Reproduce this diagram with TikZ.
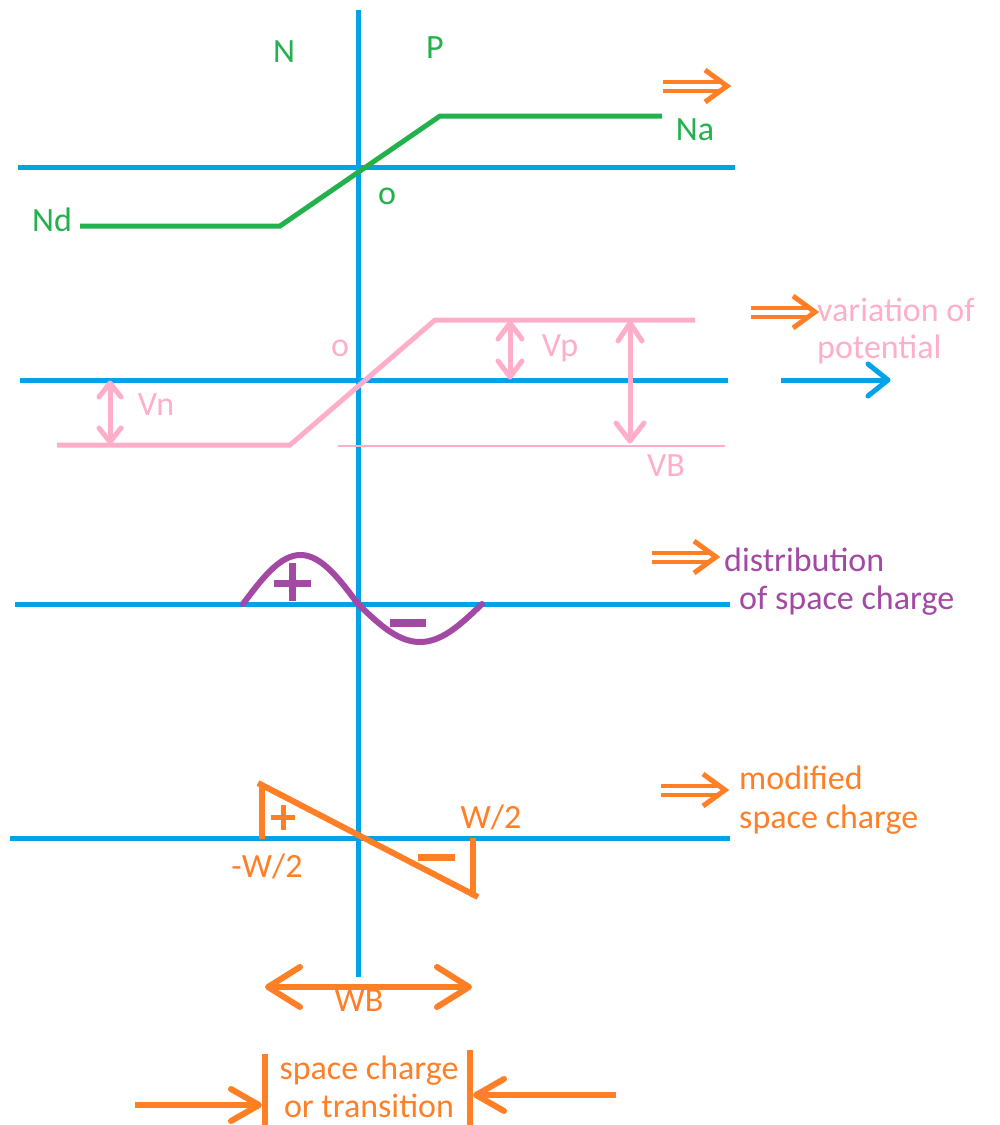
\documentclass[tikz,border=0pt]{standalone}
\usepackage{fontspec}
\setmainfont{Carlito}
\usetikzlibrary{arrows.meta}
\definecolor{cblue}{RGB}{0,162,232}
\definecolor{cgreen}{RGB}{34,177,76}
\definecolor{corange}{RGB}{255,127,39}
\definecolor{cpink}{RGB}{255,174,201}
\definecolor{cpurple}{RGB}{163,73,164}
\tikzset{
  axis/.style={cblue, line width=5pt},
  lbl/.style={font=\fontsize{34}{38}\selectfont, inner sep=0pt, align=left},
  pics/chev/.style n args={3}{code={
    \draw[line width=#3, line cap=round, line join=round] (-#1,-#2) -- (0,0) -- (-#1,#2);
  }},
  pics/dblarrow/.style={code={
    \draw[corange, line width=4pt] (0,-4.5) -- (58,-4.5) (0,4.5) -- (58,4.5);
    \draw[corange, line width=5pt, line join=miter] (42,-16) -- (64,0) -- (42,16);
  }}
}
\begin{document}
\begin{tikzpicture}[x=1pt,y=-1pt]
\useasboundingbox (0,0) rectangle (1000,1125);
% axes
\coordinate (vt) at (358,10); \coordinate (vb) at (358,977);
\draw[axis] (vt) -- (vb);
\coordinate (h1a) at (18,167); \coordinate (h1b) at (735,167);
\draw[axis] (h1a) -- (h1b);
\coordinate (h2a) at (20,380); \coordinate (h2b) at (728,380);
\draw[axis] (h2a) -- (h2b);
\coordinate (ba1) at (781,380); \coordinate (ba2) at (886,380);
\draw[cblue, line width=5pt] (ba1) -- (ba2);
\pic[cblue] at (888,380) {chev={20}{16}{5pt}};
\coordinate (h3a) at (15,604); \coordinate (h3b) at (730,604);
\draw[axis] (h3a) -- (h3b);
\coordinate (h4a) at (10,838); \coordinate (h4b) at (730,838);
\draw[axis] (h4a) -- (h4b);

% green section
\coordinate (g1) at (80,226); \coordinate (g2) at (280,226);
\coordinate (g3) at (440,116); \coordinate (g4) at (662,116);
\draw[cgreen, line width=5pt] (g1) -- (g2) -- (g3) -- (g4);
\node[lbl, text=cgreen] (nN) at (284,52) {N};
\node[lbl, text=cgreen] (nP) at (435,48) {P};
\node[lbl, text=cgreen] (nNa) at (695,130) {Na};
\node[lbl, text=cgreen] (nNd) at (52,220) {Nd};
\node[lbl, text=cgreen] (no1) at (387,196) {o};
\pic at (663,86) {dblarrow};

% pink section
\coordinate (p1) at (57,445); \coordinate (p2) at (290,445);
\coordinate (p3) at (435,320); \coordinate (p4) at (695,320);
\draw[cpink, line width=5pt] (p1) -- (p2) -- (p3) -- (p4);
\coordinate (t1) at (338,446); \coordinate (t2) at (725,446);
\draw[cpink, line width=1.5pt] (t1) -- (t2);
\coordinate (vn1) at (110,383); \coordinate (vn2) at (110,442);
\draw[cpink, line width=5pt] (vn1) -- (vn2);
\pic[cpink, rotate=90] at (vn1) {chev={14}{11}{5pt}};
\pic[cpink, rotate=-90] at (vn2) {chev={14}{11}{5pt}};
\coordinate (vp1) at (510,323); \coordinate (vp2) at (510,377);
\draw[cpink, line width=5pt] (vp1) -- (vp2);
\pic[cpink, rotate=90] at (vp1) {chev={16}{12}{5pt}};
\pic[cpink, rotate=-90] at (vp2) {chev={16}{12}{5pt}};
\coordinate (vb1) at (630,323); \coordinate (vb2) at (630,441);
\draw[cpink, line width=5pt] (vb1) -- (vb2);
\pic[cpink, rotate=90] at (vb1) {chev={18}{12}{5pt}};
\pic[cpink, rotate=-90] at (vb2) {chev={18}{14}{5pt}};
\node[lbl, text=cpink] (nVn) at (156,405) {Vn};
\node[lbl, text=cpink] (nVp) at (560,348) {Vp};
\node[lbl, text=cpink] (nVB) at (666,466) {VB};
\node[lbl, text=cpink] (no2) at (340,348) {o};
\pic at (751,312) {dblarrow};
\node[lbl, text=cpink, anchor=west] (nvar) at (817,310) {variation of};
\node[lbl, text=cpink, anchor=west] (npot) at (817,349) {potential};

% purple section
\draw[cpurple, line width=6pt, line cap=round]
  plot[domain=243:358, samples=50] (\x, {604 - 49*sin((\x-243)/115*180)})
  -- plot[domain=358:482, samples=50] (\x, {604 + 38*sin((\x-358)/124*180)});
\coordinate (pp1) at (292,563); \coordinate (pp2) at (292,601);
\coordinate (pp3) at (274,583); \coordinate (pp4) at (311,583);
\draw[cpurple, line width=7pt] (pp1) -- (pp2) (pp3) -- (pp4);
\coordinate (m1) at (390,623); \coordinate (m2) at (426,623);
\draw[cpurple, line width=8pt] (m1) -- (m2);
\pic at (652,557) {dblarrow};
\node[lbl, text=cpurple, anchor=west] (ndist) at (724,560) {distribution};
\node[lbl, text=cpurple, anchor=west] (nofsp) at (739,601) {of space charge};

% orange section
\coordinate (o1) at (258,783); \coordinate (o2) at (478,897);
\draw[corange, line width=6pt] (o1) -- (o2);
\coordinate (ol1) at (262,785); \coordinate (ol2) at (262,839);
\draw[corange, line width=6pt] (ol1) -- (ol2);
\coordinate (or1) at (473,838); \coordinate (or2) at (473,897);
\draw[corange, line width=6pt] (or1) -- (or2);
\coordinate (op1) at (283,805); \coordinate (op2) at (283,830);
\coordinate (op3) at (271,817); \coordinate (op4) at (295,817);
\draw[corange, line width=5pt] (op1) -- (op2) (op3) -- (op4);
\coordinate (om1) at (418,857); \coordinate (om2) at (455,857);
\draw[corange, line width=7pt] (om1) -- (om2);
\node[lbl, text=corange] (nW2) at (491,817) {W/2};
\node[lbl, text=corange] (nmW2) at (267,866) {-W/2};
\pic at (661,790) {dblarrow};
\node[lbl, text=corange, anchor=west] (nmod) at (739,778) {modified};
\node[lbl, text=corange, anchor=west] (nspc) at (739,820) {space charge};

% WB
\coordinate (wb1) at (268,987); \coordinate (wb2) at (469,987);
\draw[corange, line width=6pt] (wb1) -- (wb2);
\pic[corange, rotate=180] at (wb1) {chev={32}{20}{6pt}};
\pic[corange] at (wb2) {chev={32}{20}{6pt}};
\node[lbl, text=corange] (nWB) at (359,1001) {WB};

% bottom
\coordinate (bl1) at (265,1054); \coordinate (bl2) at (265,1125);
\draw[corange, line width=6pt] (bl1) -- (bl2);
\coordinate (br1) at (470,1050); \coordinate (br2) at (470,1125);
\draw[corange, line width=6pt] (br1) -- (br2);
\node[lbl, text=corange, align=center] (nsct) at (369,1087) {space charge\\or transition};
\coordinate (la1) at (135,1105); \coordinate (la2) at (259,1105);
\draw[corange, line width=6pt] (la1) -- (la2);
\pic[corange] at (la2) {chev={28}{16}{6pt}};
\coordinate (ra1) at (616,1095); \coordinate (ra2) at (476,1095);
\draw[corange, line width=6pt] (ra1) -- (ra2);
\pic[corange, rotate=180] at (ra2) {chev={28}{16}{6pt}};
\end{tikzpicture}
\end{document}
